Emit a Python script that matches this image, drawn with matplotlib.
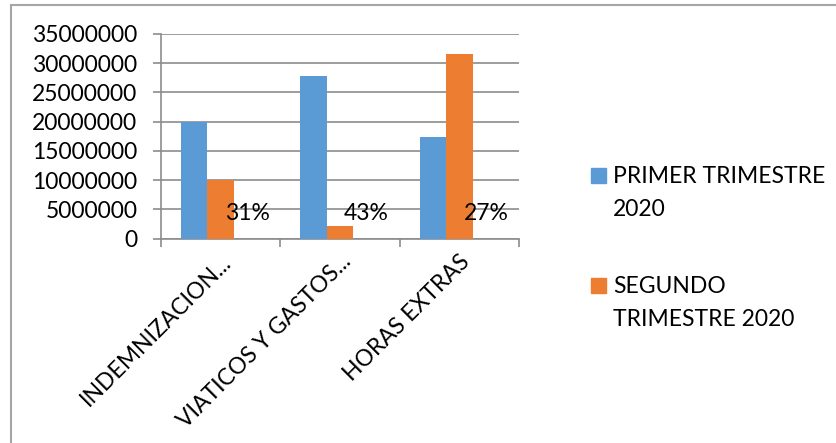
import numpy as np
import matplotlib
matplotlib.use("Agg")
import matplotlib.pyplot as plt
from matplotlib.patches import Rectangle

# data
categories = ["INDEMNIZACION...", "VIATICOS Y GASTOS...", "HORAS EXTRAS"]
primer = [19900000, 27800000, 17400000]
segundo = [10050000, 2250000, 31650000]
pct_labels = ["31%", "43%", "27%"]
series_names = ["PRIMER TRIMESTRE\n2020", "SEGUNDO\nTRIMESTRE 2020"]
colors = ["#5B9BD5", "#ED7D31"]

plt.rcParams["font.family"] = ["Lato", "DejaVu Sans"]
fs = 16.5

fig = plt.figure(figsize=(8.37, 4.43), dpi=100)
ax = fig.add_axes([161 / 837, 1 - 238.7 / 443, (519 - 161) / 837, (238.7 - 34) / 443])

x = np.arange(len(categories))
w = 1 / 4.5
ax.bar(x - w, primer, width=w, color=colors[0], zorder=3)
ax.bar(x, segundo, width=w, color=colors[1], zorder=3)
for xi, lab in zip(x, pct_labels):
    ax.text(xi + w, 4300000, lab, ha="center", va="center", fontsize=fs, zorder=4)

ax.set_xlim(-0.5, 2.5)
ax.set_ylim(0, 35000000)
ax.set_yticks(np.arange(0, 35000001, 5000000))
ax.set_yticklabels([str(v) for v in range(0, 35000001, 5000000)], fontsize=fs)
ax.yaxis.grid(True, color="#8c8c8c", linewidth=1.2, zorder=0)

# category boundaries as tick marks, labels at centers
ax.set_xticks(np.arange(-0.5, 3, 1))
ax.set_xticklabels([])
ax.set_xticks(x, minor=True)
ax.set_xticklabels(categories, minor=True, rotation=45, ha="right",
                   rotation_mode="anchor", fontsize=fs)
ax.tick_params(axis="x", which="minor", length=0, pad=9)
ax.tick_params(axis="x", which="major", length=6, color="#8c8c8c", width=1.2)
ax.tick_params(axis="y", length=6, color="#8c8c8c", width=1.2, pad=11)
for s in ["top", "right"]:
    ax.spines[s].set_visible(False)
for s in ["left", "bottom"]:
    ax.spines[s].set_color("#8c8c8c")
    ax.spines[s].set_linewidth(1.2)

# legend drawn by hand (Excel-style)
ys = [175, 285]
for name, c, yy in zip(series_names, colors, ys):
    fig.patches.append(Rectangle((591 / 837, 1 - (yy + 8) / 443), 15 / 837, 15 / 443,
                                 transform=fig.transFigure, color=c))
    fig.text(613 / 837, 1 - (yy - 9) / 443, name, fontsize=fs, va="top",
             linespacing=1.69)

# outer frame
fig.add_artist(plt.Line2D([11 / 837, 11 / 837], [0, 1 - 5 / 443], color="#a6a6a6",
                          linewidth=1.5, transform=fig.transFigure))
fig.add_artist(plt.Line2D([11 / 837, 1], [1 - 5 / 443, 1 - 5 / 443], color="#a6a6a6",
                          linewidth=1.5, transform=fig.transFigure))

fig.savefig("out.png", dpi=100)
